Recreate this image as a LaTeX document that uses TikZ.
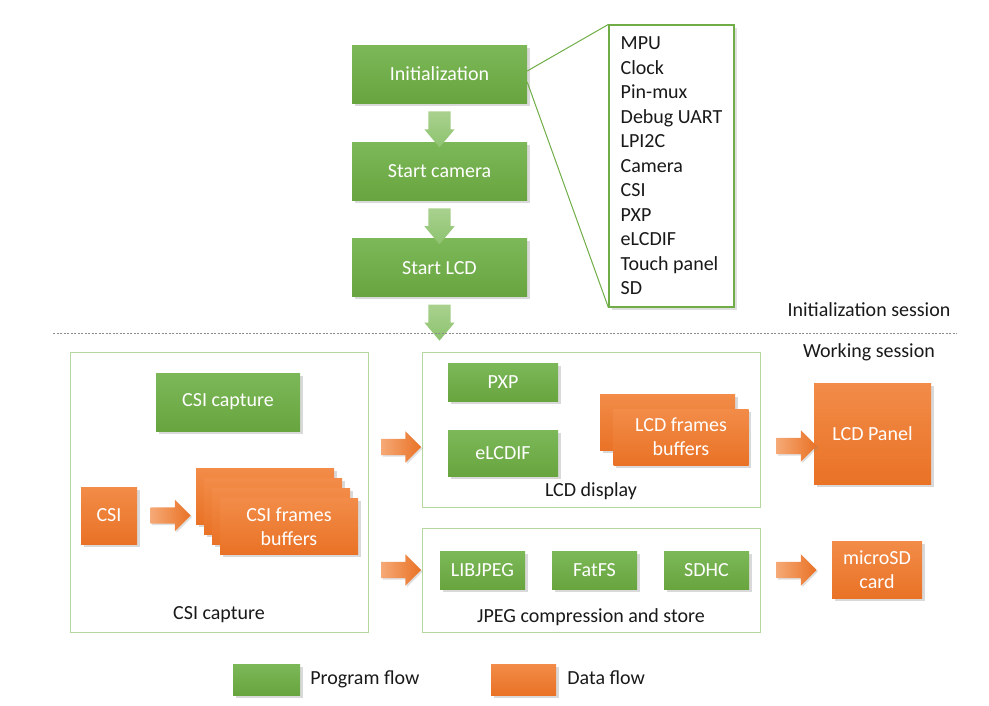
\documentclass[tikz,border=0pt]{standalone}
\usepackage{fontspec}
\setmainfont{Carlito}
\usetikzlibrary{shapes.geometric,shapes.arrows,shadows,positioning,calc}
\definecolor{progTop}{HTML}{7CB858}
\definecolor{progBottom}{HTML}{68A53F}
\definecolor{dataTop}{HTML}{F28C48}
\definecolor{dataBottom}{HTML}{E97226}
\definecolor{listGreen}{HTML}{70AD47}
\definecolor{areaGreen}{HTML}{B5D69E}
\definecolor{arrowTop}{HTML}{A9D18E}
\definecolor{arrowBottom}{HTML}{8DC36F}
\tikzstyle{progbox} = [rectangle,
                       text centered,
                       text=white,
                       top color=progTop,
                       bottom color=progBottom,
                       drop shadow={shadow xshift=2.5pt,shadow yshift=-2.5pt,opacity=0.3}]
\tikzstyle{databox} = [rectangle,
                       align=center,
                       text=white,
                       top color=dataTop,
                       bottom color=dataBottom,
                       drop shadow={shadow xshift=2.5pt,shadow yshift=-2.5pt,opacity=0.3}]
\tikzstyle{areabox} = [rectangle,
                       draw=areaGreen,
                       line width=0.8pt]
\tikzstyle{flowarrow} = [single arrow,
                         rotate=-90,
                         inner xsep=0pt,
                         inner ysep=11pt,
                         minimum height=36pt,
                         single arrow head extend=4pt,
                         single arrow tip angle=80,
                         top color=arrowTop,
                         bottom color=arrowBottom]
\tikzstyle{dataarrow} = [single arrow,
                         inner xsep=0pt,
                         inner ysep=8pt,
                         minimum height=40pt,
                         single arrow head extend=7.5pt,
                         left color=dataTop!75!white,
                         right color=dataBottom,
                         drop shadow={shadow xshift=1.5pt,shadow yshift=-1.5pt,opacity=0.25}]
\tikzstyle{plain} = [inner sep=0pt,
                     text=black!90]

\begin{document}
\begin{tikzpicture}[x=1pt, y=-1pt, font=\fontsize{20}{24}\selectfont]
    \useasboundingbox (0,0) rectangle (989,705);

    % initialization session
    \node (init) [progbox, minimum width=175pt, minimum height=58pt] at (439.5,74) {Initialization};
    \node (cam)  [progbox, minimum width=175pt, minimum height=58pt, below=39pt of init] {Start camera};
    \node (lcd)  [progbox, minimum width=175pt, minimum height=58pt, below=38pt of cam]  {Start LCD};

    \node (arr1) [flowarrow] at ($(init.south)!0.5!(cam.north)$) {};
    \node (arr2) [flowarrow] at ($(cam.south)!0.5!(lcd.north)$) {};
    \node (arr3) [flowarrow] at ($(lcd.south)+(0,19)$) {};

    \node (initlist) [rectangle, draw=listGreen, line width=1.2pt, fill=white,
                      minimum width=125pt, minimum height=282pt,
                      align=left, text=black!90,
                      drop shadow={shadow xshift=2.5pt,shadow yshift=-2.5pt,opacity=0.25},
                      font=\fontsize{20}{24.5}\selectfont] at (671.5,166)
        {MPU\\Clock\\Pin-mux\\Debug UART\\LPI2C\\Camera\\CSI\\PXP\\eLCDIF\\Touch panel\\SD};

    \draw [listGreen, line width=1pt] ([yshift=3pt]init.east)  -- (initlist.north west);
    \draw [listGreen, line width=1pt] ([yshift=-8pt]init.east) -- (initlist.south west);

    \node (initsess) [plain] at (869,310) {Initialization session};
    \coordinate (sepL) at (53,333);
    \coordinate (sepR) at (957,333);
    \draw [black!45, dash pattern=on 2pt off 1.5pt, line width=0.8pt] (sepL) -- (sepR);
    \node (worksess) [plain] at (869,352) {Working session};

    % CSI capture
    \node (capbox) [areabox, minimum width=298pt, minimum height=280pt] at (219,492) {};
    \node (csicap) [progbox, minimum width=144pt, minimum height=58pt] at (228,402) {CSI capture};
    \node (csi)    [databox, minimum width=56pt, minimum height=57pt] at (109,515.5) {CSI};
    \foreach \i in {1,...,4} {
        \node (csibuf\i) [databox, minimum width=138pt, minimum height=56pt]
            at ({265+8*(\i-1)},{496.5+10*(\i-1)}) {\ifnum\i=4 CSI frames\\buffers\fi};
    }
    \node (csiarr) [dataarrow] at ($(csi.east)!0.5!(csibuf1.west |- csi.east)$) {};
    \node (caplabel) [plain] at (219,615) {CSI capture};

    % LCD display
    \node (dispbox) [areabox, minimum width=338pt, minimum height=155pt] at (591,429.5) {};
    \node (pxp)     [progbox, minimum width=110pt, minimum height=38pt] at (503,382) {PXP};
    \node (elcdif)  [progbox, minimum width=110pt, minimum height=46pt] at (503,453) {eLCDIF};
    \node (lcdbuf1) [databox, minimum width=135pt, minimum height=56pt] at (667.5,422.5) {};
    \node (lcdbuf2) [databox, minimum width=135pt, minimum height=56pt] at (681,437) {LCD frames\\buffers};
    \node (displabel) [plain] at (591,491) {LCD display};

    % JPEG compression and store
    \node (jpegbox) [areabox, minimum width=338pt, minimum height=104pt] at (591,580) {};
    \node (libjpeg) [progbox, minimum width=85pt, minimum height=38pt] at (482.5,570) {LIBJPEG};
    \node (fatfs)   [progbox, minimum width=85pt, minimum height=38pt] at (594.5,570) {FatFS};
    \node (sdhc)    [progbox, minimum width=85pt, minimum height=38pt] at (706.5,570) {SDHC};
    \node (jpeglabel) [plain] at (591,617) {JPEG compression and store};

    % outputs
    \node (lcdpanel) [databox, minimum width=117pt, minimum height=101pt] at (872.5,433.5) {LCD Panel};
    \node (sdcard)   [databox, minimum width=90pt, minimum height=57pt]   at (877,569.5)   {microSD\\card};

    \node (toDisp)  [dataarrow] at (397,447)   {};
    \node (toJpeg)  [dataarrow] at (397,570)   {};
    \node (toPanel) [dataarrow] at (792.5,446) {};
    \node (toCard)  [dataarrow] at (792.5,570) {};

    % legend
    \node (legprog) [progbox, minimum width=67pt, minimum height=31pt] at (266.5,679.5) {};
    \node (legprogtext) [plain, text height=14pt, text depth=4pt, right=10pt of legprog] {Program flow};
    \node (legdata) [databox, minimum width=65pt, minimum height=31pt] at (523.5,679.5) {};
    \node (legdatatext) [plain, text height=14pt, text depth=4pt, right=11pt of legdata] {Data flow};

  \end{tikzpicture}
\end{document}
